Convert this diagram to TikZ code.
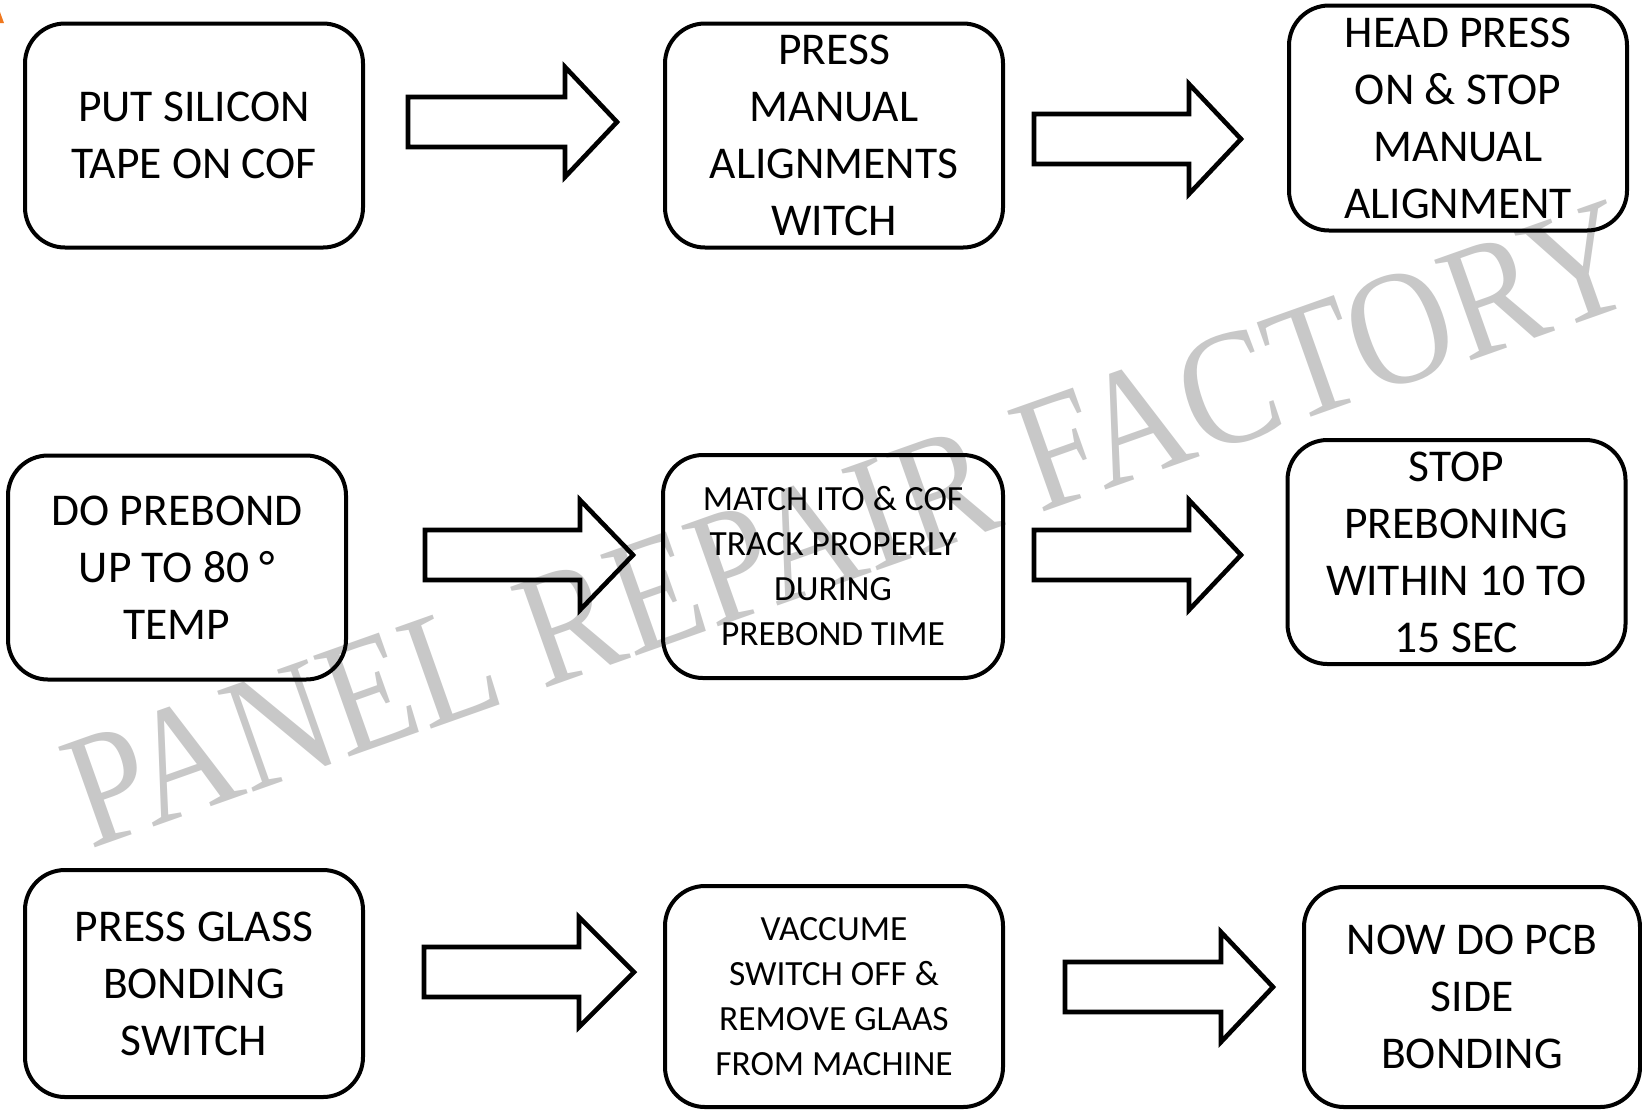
\documentclass[tikz,border=0pt]{standalone}
\usepackage{fontspec}
\setmainfont{Carlito}
\newfontfamily\wmfont{Liberation Serif}
\definecolor{wmgray}{RGB}{200,200,200}
\definecolor{logoorange}{RGB}{240,120,30}
% block arrow: tail x, head base x, tip x, centre y
\newcommand\blockarrow[4]{%
  \draw[arrowshape] (#1,#4-25) -- (#2,#4-25) -- (#2,#4-55) -- (#3,#4)
    -- (#2,#4+55) -- (#2,#4+25) -- (#1,#4+25) -- cycle;}
\begin{document}
\begin{tikzpicture}[x=0.5pt,y=-0.5pt,
  box/.style={draw=black, line width=2pt, rounded corners=20pt,
    minimum width=169pt, minimum height=112pt, inner sep=0pt,
    align=center, font=\fontsize{22.75}{28.5}\selectfont},
  smallbox/.style={box, font=\fontsize{17.7}{22.5}\selectfont},
  arrowshape/.style={draw=black, line width=2.3pt, miter limit=10},
  wm/.style={text=wmgray, inner sep=0pt, font=\wmfont\fontsize{71}{71}\selectfont}]
\useasboundingbox (0,0) rectangle (1642,1110);
% watermark
\node[wm, rotate=19.5, yscale=1.15] (wm) at (850,524) {PANEL REPAIR FACTORY};
% logo fragment
\fill[logoorange] (0,12) -- (4,23) -- (0,23) -- cycle;
% row 1
\node[box] (b1) at (194,135.5) {PUT SILICON\\TAPE ON COF};
\node[box] (b2) at (834,135.5) {PRESS\\MANUAL\\ALIGNMENTS\\WITCH};
\node[box, minimum height=112.5pt] (b3) at (1458,118) {HEAD PRESS\\ON \& STOP\\MANUAL\\ALIGNMENT};
% row 2
\node[box] (b4) at (177,567.5) {DO PREBOND\\UP TO 80 °\\TEMP};
\node[smallbox, minimum width=170pt, minimum height=111.5pt] (b5) at (833,566.5) {MATCH ITO \& COF\\TRACK PROPERLY\\DURING\\PREBOND TIME};
\node[box] (b6) at (1456.5,552) {STOP\\PREBONING\\WITHIN 10 TO\\15 SEC};
% row 3
\node[box, minimum height=113.5pt] (b7) at (194,983.5) {PRESS GLASS\\BONDING\\SWITCH};
\node[smallbox, minimum height=110.5pt] (b8) at (834,996.5) {VACCUME\\SWITCH OFF \&\\REMOVE GLAAS\\FROM MACHINE};
\node[box, minimum width=168pt, minimum height=110pt] (b9) at (1472,997) {NOW DO PCB\\SIDE\\BONDING};
% block arrows
\blockarrow{408}{565}{617}{122}
\blockarrow{1034}{1189}{1241}{139}
\blockarrow{425}{580}{633}{555}
\blockarrow{1034}{1189}{1241}{555}
\blockarrow{424}{579}{634}{972}
\blockarrow{1065}{1221}{1273}{987}
\end{tikzpicture}
\end{document}
